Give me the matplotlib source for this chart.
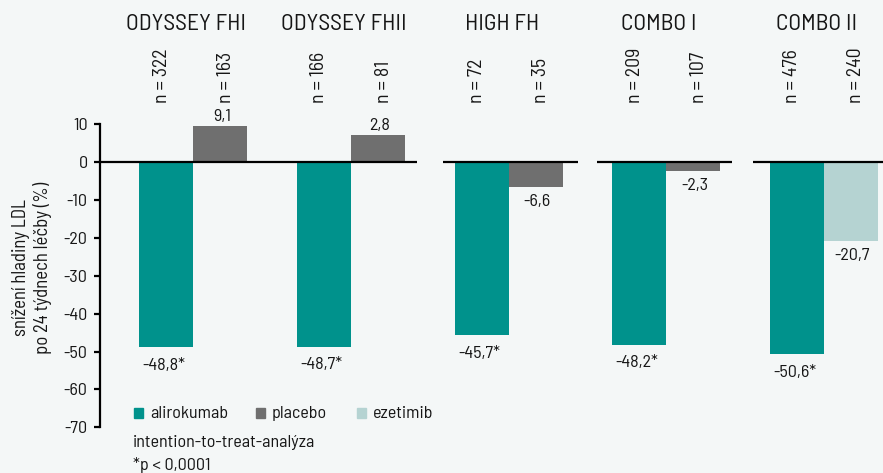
import matplotlib
matplotlib.use("Agg")
import matplotlib.pyplot as plt
from matplotlib.patches import Rectangle

FAM = ['Barlow Semi Condensed', 'Barlow Condensed', 'DejaVu Sans']
plt.rcParams['font.family'] = FAM

categories = ['ODYSSEY FHI', 'ODYSSEY FHII', 'HIGH FH', 'COMBO I', 'COMBO II']
alirokumab = [-48.8, -48.7, -45.7, -48.2, -50.6]
control_labels = ['9,1', '2,8', '-6,6', '-2,3', '-20,7']
control_height = [9.5, 7.1, -6.6, -2.3, -20.7]
alirokumab_labels = ['-48,8*', '-48,7*', '-45,7*', '-48,2*', '-50,6*']
n_alirokumab = [322, 166, 72, 209, 476]
n_control = [163, 81, 35, 107, 240]
control_kind = ['placebo', 'placebo', 'placebo', 'placebo', 'ezetimib']
yticks = [10, 0, -10, -20, -30, -40, -50, -60, -70]

TEAL = '#00928c'
GRAY = '#6f6f6f'
LIGHT = '#b5d3d2'
BG = '#f4f7f7'
TXT = '#161616'
kind_color = {'placebo': GRAY, 'ezetimib': LIGHT}
FS = 13

fig = plt.figure(figsize=(8.83, 4.73), dpi=100, facecolor=BG)
ax = fig.add_axes([100/883, (473-427.3)/473, 783/883, (427.3-124.5)/473])
ax.set_facecolor(BG)
ax.set_xlim(-0.593, 4.375)
ax.set_ylim(-70, 10)

w = 0.3426
xs = list(range(len(categories)))
ax.bar([x - w/2 for x in xs], alirokumab, width=w, color=TEAL, zorder=2)
ax.bar([x + w/2 for x in xs], control_height, width=w,
       color=[kind_color[k] for k in control_kind], zorder=2)

# zero line segments
segs = [(-0.593, 1.418), (1.583, 2.44), (2.56, 3.417), (3.55, 4.375)]
for a, b in segs:
    ax.plot([a, b], [0, 0], color='black', lw=1.6, zorder=3,
            solid_capstyle='butt', clip_on=False)

for i, x in enumerate(xs):
    ax.annotate(alirokumab_labels[i], (x - w/2 - 0.015, alirokumab[i]), xytext=(0, -16.3),
                textcoords='offset points', ha='center', va='baseline',
                fontsize=FS, color=TXT)
    h = control_height[i]
    ax.annotate(control_labels[i], (x + w/2 + 0.01, h), xytext=(0, 4 if h > 0 else -13.6),
                textcoords='offset points', ha='center', va='baseline',
                fontsize=FS, color=TXT)
    ax.text(x - w/2 - 0.03, 15.6, f'n = {n_alirokumab[i]}', rotation=90,
            ha='center', va='bottom', fontsize=14.2, color=TXT, clip_on=False)
    ax.text(x + w/2 + 0.035, 15.6, f'n = {n_control[i]}', rotation=90,
            ha='center', va='bottom', fontsize=14.2, color=TXT, clip_on=False)
    ax.text(x - 0.045, 36.5, categories[i], ha='center', va='center',
            fontsize=17, color=TXT, clip_on=False)

for s in ['top', 'right', 'bottom']:
    ax.spines[s].set_visible(False)
ax.spines['left'].set_linewidth(1.6)
ax.set_xticks([])
ax.set_yticks(yticks)
ax.set_yticklabels([str(t) for t in yticks], fontsize=FS, color=TXT)
ax.tick_params(axis='y', length=4.5, width=1.6, pad=4.5)

fig.text(21/883, 1 - 268/473, 'snížení hladiny LDL', rotation=90,
         ha='center', va='center', fontsize=13.5, color=TXT)
fig.text(43/883, 1 - 268/473, 'po 24 týdnech léčby (%)', rotation=90,
         ha='center', va='center', fontsize=13.5, color=TXT)

# legend
leg = [('alirokumab', TEAL, 134), ('placebo', GRAY, 256), ('ezetimib', LIGHT, 357)]
for name, col, px in leg:
    fig.patches.append(Rectangle((px/883, 1 - 418/473), 9/883, 10/473,
                                 transform=fig.transFigure, color=col))
    fig.text((px + 16)/883, 1 - 413/473, name, ha='left', va='center',
             fontsize=FS, color=TXT)

fig.text(133/883, 1 - 443/473, 'intention-to-treat-analýza', ha='left',
         va='center', fontsize=FS, color=TXT)
fig.text(133/883, 1 - 465/473, '*p < 0,0001', ha='left', va='center',
         fontsize=FS, color=TXT)

fig.savefig('out.png', dpi=100, facecolor=BG)
